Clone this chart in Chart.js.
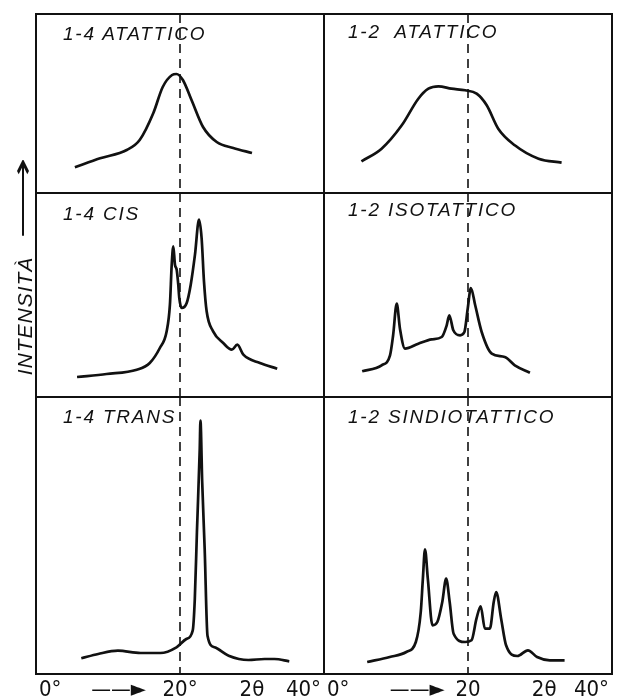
<!DOCTYPE html>
<html>
<head>
<meta charset="utf-8">
<script src="https://cdn.jsdelivr.net/npm/chart.js@4.4.1/dist/chart.umd.min.js"></script>
<style>
    body { margin: 0; background: #fff; width: 625px; height: 698px; overflow: hidden; position: relative; }
    .panel { position: absolute; }
    .line { position: absolute; background: #111; }
    .title { position: absolute; font-family: 'Liberation Sans', Arial, sans-serif; font-style: italic;
             font-size: 19px; letter-spacing: 1.8px; color: #111; white-space: pre; line-height: 1; }
    .ylab { position: absolute; font-family: 'Liberation Sans', Arial, sans-serif; font-style: italic;
            font-size: 21px; letter-spacing: 1px; color: #111; white-space: pre; line-height: 1;
            transform: translate(-50%, -50%) rotate(-90deg); }
</style>
</head>
<body>

<script>
// reference angle (dashed line), degrees 2theta
var refAngle = 20;

// tick labels along the bottom
var leftTickValues = [0, 11.3, 20, 30.2, 40];
var leftTickLabels = ['0°', '——►', '20°', '2θ', '40°'];
var rightTickValues = [0, 12.8, 20, 30.8, 40];
var rightTickLabels = ['0°', '——►', '20', '2θ', '40°'];

// panel titles
var titles = ['1-4 ATATTICO', '1-2  ATATTICO', '1-4 CIS', '1-2 ISOTATTICO', '1-4 TRANS', '1-2 SINDIOTATTICO'];

// intensity ranges per row (arbitrary units)
var rowMax = [179, 204, 277];

// 1-4 atattico
var atat14Theta = [5.4, 8.9, 12.6, 14.4, 16.3, 17.6, 18.9, 19.5, 20.4, 21.6, 23.2, 25.1, 27.4, 30.0];
var atat14Int   = [25.7, 34.7, 43, 53, 80, 106, 118, 119, 113, 93, 66, 51, 45, 40];

// 1-2 atattico
var atat12Theta = [5.2, 8.0, 10.8, 13.1, 14.5, 15.9, 17.7, 19.6, 21.2, 22.6, 24.2, 26.5, 29.8, 33.0];
var atat12Int   = [31.7, 44.3, 67.7, 94.3, 104.3, 106.7, 104.3, 102.7, 99.3, 87.7, 64.3, 47.7, 34.3, 30.3];

// 1-4 cis
var cisTheta = [5.7, 9.8, 14.0, 15.8, 17.2, 18.15, 18.6, 18.85, 19.07, 19.3, 19.54, 19.76, 19.9, 20.24,
                20.93, 21.49, 22.08, 22.64, 23.0, 23.33, 23.7, 24.6, 26.0, 27.2, 27.96, 28.8, 31.1, 33.5];
var cisInt   = [20, 23, 27.3, 34, 49, 65.7, 92.3, 132.3, 150.7, 132.3, 127.3, 112.3, 99, 89,
                94, 112.3, 142.3, 177.3, 159, 115.7, 85.7, 65.7, 54, 47.3, 52.3, 42.3, 34, 28.3];

// 1-2 isotattico
var isoTheta = [5.3, 8.0, 9.17, 9.6, 10.1, 10.55, 11.25, 13.1, 14.96, 16.35, 17.04, 17.4, 17.96,
                18.9, 19.5, 19.96, 20.4, 21.0, 21.9, 23.3, 25.1, 26.5, 28.6];
var isoInt   = [25.7, 31.7, 41.7, 61.7, 93.3, 68.3, 48.3, 53.3, 57.7, 60, 71.7, 81.7, 66.7,
                61.7, 65, 88.3, 109, 91.7, 65, 43.3, 40, 31.7, 24.3];

// 1-4 trans
var transTheta = [6.0, 8.4, 11.2, 14.4, 17.2, 19.5, 20.9, 21.8, 22.1, 22.4, 22.8, 22.9, 23.15,
                  23.5, 23.9, 24.9, 26.9, 29.7, 32.0, 33.4, 35.5];
var transInt   = [15.7, 20, 23.3, 21, 21, 26.7, 35, 43.3, 75, 141.7, 225, 253.3, 191.7,
                  125, 38.3, 26.7, 18.3, 14, 15, 15, 12.7];

// 1-2 sindiotattico
var sinTheta = [5.7, 8.9, 11.25, 12.6, 13.3, 13.6, 13.9, 14.3, 14.96, 15.65, 16.35, 16.9, 17.4, 17.96,
                19.6, 20.5, 21.2, 21.8, 22.4, 23.1, 23.65, 24.0, 24.7, 25.4, 27.0, 28.5, 29.8, 31.6, 33.7];
var sinInt   = [12, 17, 22, 32, 62, 95.3, 124.7, 95.3, 48.7, 52, 72, 95.3, 72, 40.3,
                32, 33.7, 55.3, 67.7, 45.3, 45.3, 72, 82, 55.3, 28.7, 18, 23.7, 17, 13.7, 13.7];

// layout of the grid
var colX = [36, 324];
var colW = 288;
var rowY = [14, 193, 397];
var axisH = 24;

function toPoints(thetas, ints) {
    var pts = [];
    for (var i = 0; i < thetas.length; i++) {
        pts.push({ x: thetas[i], y: ints[i] });
    }
    return pts;
}

// dashed 20 degree reference line
var refLinePlugin = {
    id: 'refLine',
    beforeDatasetsDraw: function(chart) {
        var ctx = chart.ctx;
        var area = chart.chartArea;
        var px = chart.scales.x.getPixelForValue(refAngle);
        ctx.save();
        ctx.strokeStyle = '#111';
        ctx.lineWidth = 1.6;
        ctx.setLineDash([9, 6]);
        ctx.beginPath();
        ctx.moveTo(px, area.top);
        ctx.lineTo(px, area.bottom);
        ctx.stroke();
        ctx.restore();
    }
};

function makePanel(col, row, thetas, ints) {
    var isBottom = row === 2;
    var tickValues = col === 0 ? leftTickValues : rightTickValues;
    var tickLabels = col === 0 ? leftTickLabels : rightTickLabels;
    var h = (row < 2 ? rowY[row + 1] : 674) - rowY[row];

    var wrap = document.createElement('div');
    wrap.className = 'panel';
    wrap.style.left = colX[col] + 'px';
    wrap.style.top = rowY[row] + 'px';
    var canvas = document.createElement('canvas');
    canvas.width = colW;
    canvas.height = h + (isBottom ? axisH : 0);
    wrap.appendChild(canvas);
    document.body.appendChild(wrap);

    new Chart(canvas, {
        type: 'line',
        data: {
            datasets: [{
                data: toPoints(thetas, ints),
                borderColor: '#111',
                borderWidth: 2.7,
                pointRadius: 0,
                fill: false,
                cubicInterpolationMode: 'monotone'
            }]
        },
        options: {
            responsive: false,
            animation: false,
            events: [],
            layout: { padding: 0 },
            plugins: { legend: { display: false }, tooltip: { enabled: false } },
            scales: {
                x: {
                    type: 'linear',
                    min: 0,
                    max: 40,
                    display: isBottom,
                    grid: { display: false, drawTicks: false },
                    border: { display: false },
                    afterBuildTicks: function(scale) {
                        scale.ticks = tickValues.map(function(v) { return { value: v }; });
                    },
                    afterFit: function(scale) {
                        if (isBottom) scale.height = axisH;
                    },
                    ticks: {
                        autoSkip: false,
                        maxRotation: 0,
                        align: 'inner',
                        padding: 3,
                        color: '#111',
                        font: { family: "'DejaVu Sans Condensed', 'Liberation Sans Narrow', 'Liberation Sans', sans-serif", size: 22 },
                        callback: function(value, index) {
                            return tickLabels[index];
                        }
                    }
                },
                y: { min: 0, max: rowMax[row], display: false }
            }
        },
        plugins: [refLinePlugin]
    });
}

makePanel(0, 0, atat14Theta, atat14Int);
makePanel(1, 0, atat12Theta, atat12Int);
makePanel(0, 1, cisTheta, cisInt);
makePanel(1, 1, isoTheta, isoInt);
makePanel(0, 2, transTheta, transInt);
makePanel(1, 2, sinTheta, sinInt);

// frame lines
function addLine(x, y, w, h) {
    var d = document.createElement('div');
    d.className = 'line';
    d.style.left = x + 'px';
    d.style.top = y + 'px';
    d.style.width = w + 'px';
    d.style.height = h + 'px';
    document.body.appendChild(d);
}
addLine(35, 13, 578, 2);
addLine(35, 673, 578, 2);
addLine(35, 13, 2, 662);
addLine(611, 13, 2, 662);
addLine(323, 13, 2, 662);
addLine(35, 192, 578, 2);
addLine(35, 396, 578, 2);

// titles
var titlePos = [[63, 24], [348, 22], [63, 204], [348, 200], [63, 407], [348, 407]];
for (var i = 0; i < titles.length; i++) {
    var t = document.createElement('div');
    t.className = 'title';
    t.style.left = titlePos[i][0] + 'px';
    t.style.top = titlePos[i][1] + 'px';
    t.textContent = titles[i];
    document.body.appendChild(t);
}

// y axis label and arrow
var yl = document.createElement('div');
yl.className = 'ylab';
yl.style.left = '24px';
yl.style.top = '316px';
yl.textContent = 'INTENSITÀ';
document.body.appendChild(yl);

var ya = document.createElement('div');
ya.className = 'ylab';
ya.style.left = '22px';
ya.style.top = '197px';
ya.style.fontStyle = 'normal';
ya.style.fontSize = '30px';
ya.style.transform = 'translate(-50%, -50%) rotate(-90deg) scaleX(1.9)';
ya.textContent = '⟶';
document.body.appendChild(ya);
</script>
</body>
</html>
